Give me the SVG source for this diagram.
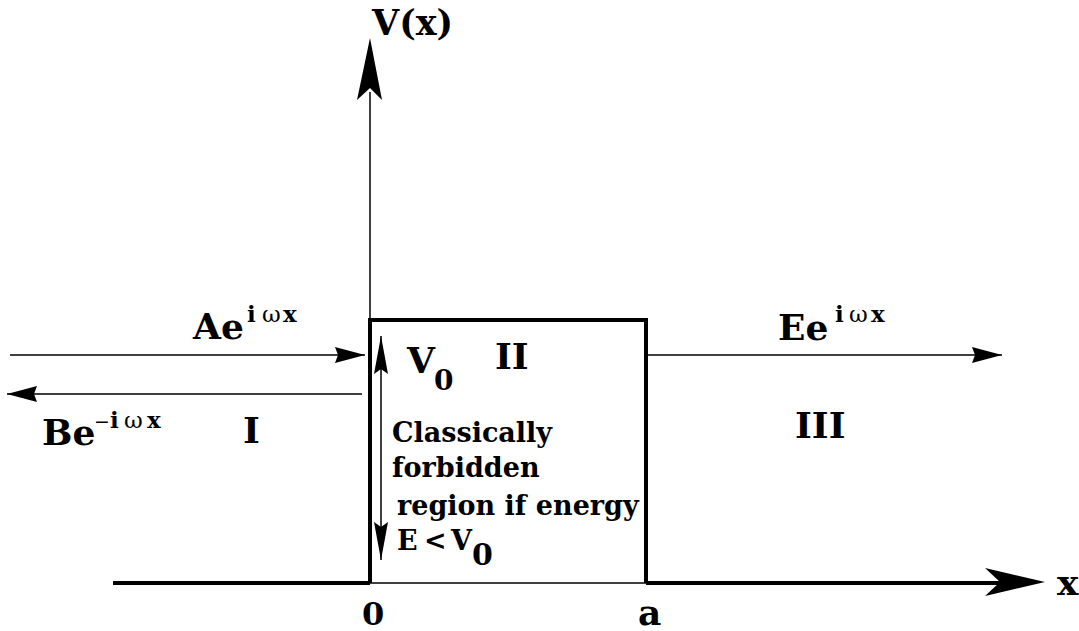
<svg xmlns="http://www.w3.org/2000/svg" width="1079" height="631" viewBox="0 0 1079 631">
<defs>
<style>
text{font-family:"DejaVu Serif","Liberation Serif",serif;font-weight:bold;fill:#000}
.big{font-size:36px}
.sup{font-size:23px}
.w{font-weight:normal}
.lbl{font-size:27px}
.thin{stroke:#000;stroke-width:1.5;fill:none}
.thick{stroke:#000;stroke-width:4;fill:none}
</style>
<marker id="ah" markerUnits="userSpaceOnUse" markerWidth="30" markerHeight="16" refX="30" refY="8" orient="auto-start-reverse">
<path d="M0,0 L30,8 L0,16 L3,8 z" fill="#000"/>
</marker>
<marker id="ahv" markerUnits="userSpaceOnUse" markerWidth="38" markerHeight="14" refX="38" refY="7" orient="auto-start-reverse">
<path d="M0,0 L38,7 L0,14 L5,7 z" fill="#000"/>
</marker>
</defs>
<rect width="1079" height="631" fill="#fff"/>
<g id="connectors">
<line class="thin" x1="370" y1="583" x2="370" y2="92" stroke-width="2.2"/>
<polygon points="370,38 382,100 370,88 357,100" fill="#000"/>
<path class="thick" d="M113,583 H370 M646,583 H1000"/>
<polygon points="1045,582 985,568 1000,582 985,596" fill="#000"/>
<line class="thin" x1="10" y1="355" x2="365" y2="355" marker-end="url(#ah)"/>
<line class="thin" x1="362" y1="394" x2="7" y2="394" marker-end="url(#ah)"/>
<line class="thin" x1="646" y1="355" x2="1002" y2="355" marker-end="url(#ah)"/>
<line class="thin" x1="381" y1="336" x2="381" y2="560" marker-start="url(#ahv)" marker-end="url(#ahv)"/>
</g>
<g id="barrier">
<line class="thin" x1="370" y1="583" x2="646" y2="583"/>
<path class="thick" d="M370,583 V320 H646 V583"/>
</g>
<g id="axis-labels">
<text x="372" y="35" font-size="35">V(x)</text>
<text class="big" x="1057" y="595">x</text>
<text x="362" y="625" font-size="32">0</text>
<text class="big" x="638" y="625">a</text>
</g>
<g id="region-I">
<text class="big" x="193" y="339">Ae<tspan class="sup" x="247" y="322">i</tspan><tspan class="sup w" x="262">ω</tspan><tspan class="sup" x="283">x</tspan></text>
<text class="big" x="42" y="445">Be<tspan class="w" x="94" y="428" font-size="19">−</tspan><tspan class="sup" x="110">i</tspan><tspan class="sup w" x="124">ω</tspan><tspan class="sup" x="147">x</tspan></text>
<text class="big" x="243" y="443">I</text>
</g>
<g id="region-II">
<text class="big" x="407" y="373">V<tspan x="434" y="390" font-size="28">0</tspan></text>
<text class="big" x="495" y="369">II</text>
<text class="lbl" x="392" y="442">Classically</text>
<text class="lbl" x="392" y="477">forbidden</text>
<text class="lbl" x="397" y="515">region if energy</text>
<text class="lbl" x="397" y="550">E<tspan x="424">&lt;</tspan><tspan x="451">V</tspan><tspan x="472" y="565" font-size="30">0</tspan></text>
</g>
<g id="region-III">
<text class="big" x="778" y="340">Ee<tspan class="sup" x="835" y="322">i</tspan><tspan class="sup w" x="849">ω</tspan><tspan class="sup" x="871">x</tspan></text>
<text class="big" x="795" y="438">III</text>
</g>
</svg>
